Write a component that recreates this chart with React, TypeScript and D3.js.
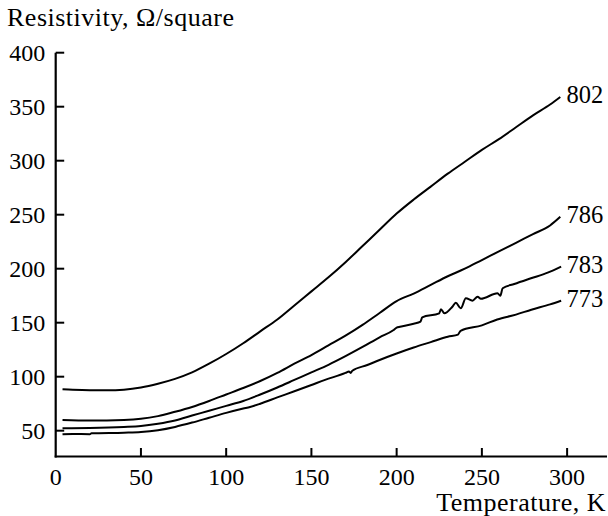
import React, { useEffect, useState } from "react";
import * as d3 from "d3";

const temp802 = [4,10,20,30,40,50,60,70,80,90,100,110,120,130,140,150,160,170,180,190,200,210,220,230,240,250,260,270,280,290,296];
const res802 = [88.3,87.8,87.4,87.4,88,90,93.5,98,104,112,121,131,142,153,166,179,192,206,221,236,251,264,276,288,299,310,320,331,342,352,359];

const temp786 = [4,20,40,50,60,70,80,90,100,110,120,130,140,150,160,170,180,190,200,210,220,230,240,250,260,270,280,290,296];
const res786 = [60,59.5,60,61,63.5,67.5,72,77.5,83.5,89.5,96,103.5,112,120,129,138,148,159,170,177,185,193,200,208,216,224,232,240,248];

const temp783 = [4,20,40,50,60,70,80,90,100,110,120,130,140,150,160,170,180,190,198,200,202,210,214,215,225,226,228,232.7,234.7,237.6,240.6,244.5,247.5,249.4,259.2,260.8,262.2,269,278.8,288.6,296.5];
const res783 = [52.2,52.5,53.5,54.4,56.5,59.5,64,68.5,73,77.5,83.5,90,97,104,111,119,127.5,136.5,143,145.5,146.3,149,151,155,158.7,162.4,158.7,164.8,168.5,163.3,172.6,170.4,174.1,172.2,177.2,175,181.9,185.8,191.1,196.3,202];

const temp773 = [4,10,20,21,40,50,60,70,80,90,100,110,114,120,130,140,150,158,170,172,173,174,182.8,190,200,210,220,230,236,237.5,250,259,270,279,290,296.5];
const res773 = [46.6,47,46.8,47.6,48.2,48.8,50.5,53.5,57.5,62,66.5,70.5,72,75,80.8,86.5,92.3,97,103.5,104.8,103.5,105.5,110.8,115.5,121.5,127,132,137,139,142.5,147.5,153,157.5,162,167,170.4];

const seriesNames = ["802", "786", "783", "773"];
const seriesTemps = [temp802, temp786, temp783, temp773];
const seriesRes = [res802, res786, res783, res773];

const xTicks = [0, 50, 100, 150, 200, 250, 300];
const yTicks = [50, 100, 150, 200, 250, 300, 350, 400];

const xTitle = "Temperature, K";
const yTitle = "Resistivity, Ω/square";

const W = 608;
const H = 516;
const FF = "Liberation Serif";

export default function App() {
  const [tick, setTick] = useState(0);
  useEffect(() => {
    const fonts: any = (document as any).fonts;
    if (fonts && fonts.load) {
      Promise.all([fonts.load("24px 'Liberation Serif'"), fonts.load("26px 'Liberation Serif'")])
        .then(() => setTick(1))
        .catch(() => setTick(1));
    }
    const id = setTimeout(() => setTick(2), 150);
    return () => clearTimeout(id);
  }, []);

  const x = d3.scaleLinear().domain([0, 323.4]).range([55.7, 607]);
  const y = d3.scaleLinear().domain([26.1, 400]).range([456.5, 52.7]);

  const line = d3
    .line<[number, number]>()
    .x((d) => x(d[0]))
    .y((d) => y(d[1]))
    .curve(d3.curveMonotoneX);

  const x0 = x(0);
  const y0 = y(26.1);

  return (
    <svg
      key={"s" + tick}
      width={W}
      height={H}
      fontFamily={FF}
      style={{ position: "absolute", left: 0, top: 0, background: "#fff", fontFamily: FF }}
    >
      <style>{"text { font-family: 'Liberation Serif'; }"}</style>
      <rect x={0} y={0} width={W} height={H} fill="#fff" />
      <line x1={x0} y1={y(400)} x2={x0} y2={y0 + 1} stroke="#000" strokeWidth={2.2} />
      <line x1={x0 - 1} y1={y0} x2={x(323.4)} y2={y0} stroke="#000" strokeWidth={2.2} />
      {yTicks.map((t) => (
        <g key={"y" + t}>
          <line x1={x0} x2={x0 + 8.5} y1={y(t)} y2={y(t)} stroke="#000" strokeWidth={2} />
          <text x={x0 - 10.5} y={y(t) + 8} textAnchor="end" fontSize={24} fill="#000" fontFamily={FF}>
            {t}
          </text>
        </g>
      ))}
      {xTicks.map((t) => (
        <g key={"x" + t}>
          {t > 0 && (
            <line x1={x(t)} x2={x(t)} y1={y0} y2={y0 - 8.5} stroke="#000" strokeWidth={2} />
          )}
          <text x={x(t)} y={485} textAnchor="middle" fontSize={24} fill="#000" fontFamily={FF}>
            {t}
          </text>
        </g>
      ))}
      <text x={7} y={26} fontSize={26} letterSpacing={0.5} fill="#000" fontFamily={FF}>
        {yTitle}
      </text>
      <text x={606} y={510.5} textAnchor="end" fontSize={26} letterSpacing={0.5} fill="#000" fontFamily={FF}>
        {xTitle}
      </text>
      {seriesNames.map((name, i) => {
        const pts = seriesTemps[i].map((t, j) => [t, seriesRes[i][j]] as [number, number]);
        const last = pts[pts.length - 1];
        return (
          <g key={name}>
            <path d={line(pts) || ""} fill="none" stroke="#000" strokeWidth={2} strokeLinejoin="round" />
            <text x={566.5} y={y(last[1]) + 6.5} fontSize={24.5} fill="#000" fontFamily={FF}>
              {name}
            </text>
          </g>
        );
      })}
    </svg>
  );
}
